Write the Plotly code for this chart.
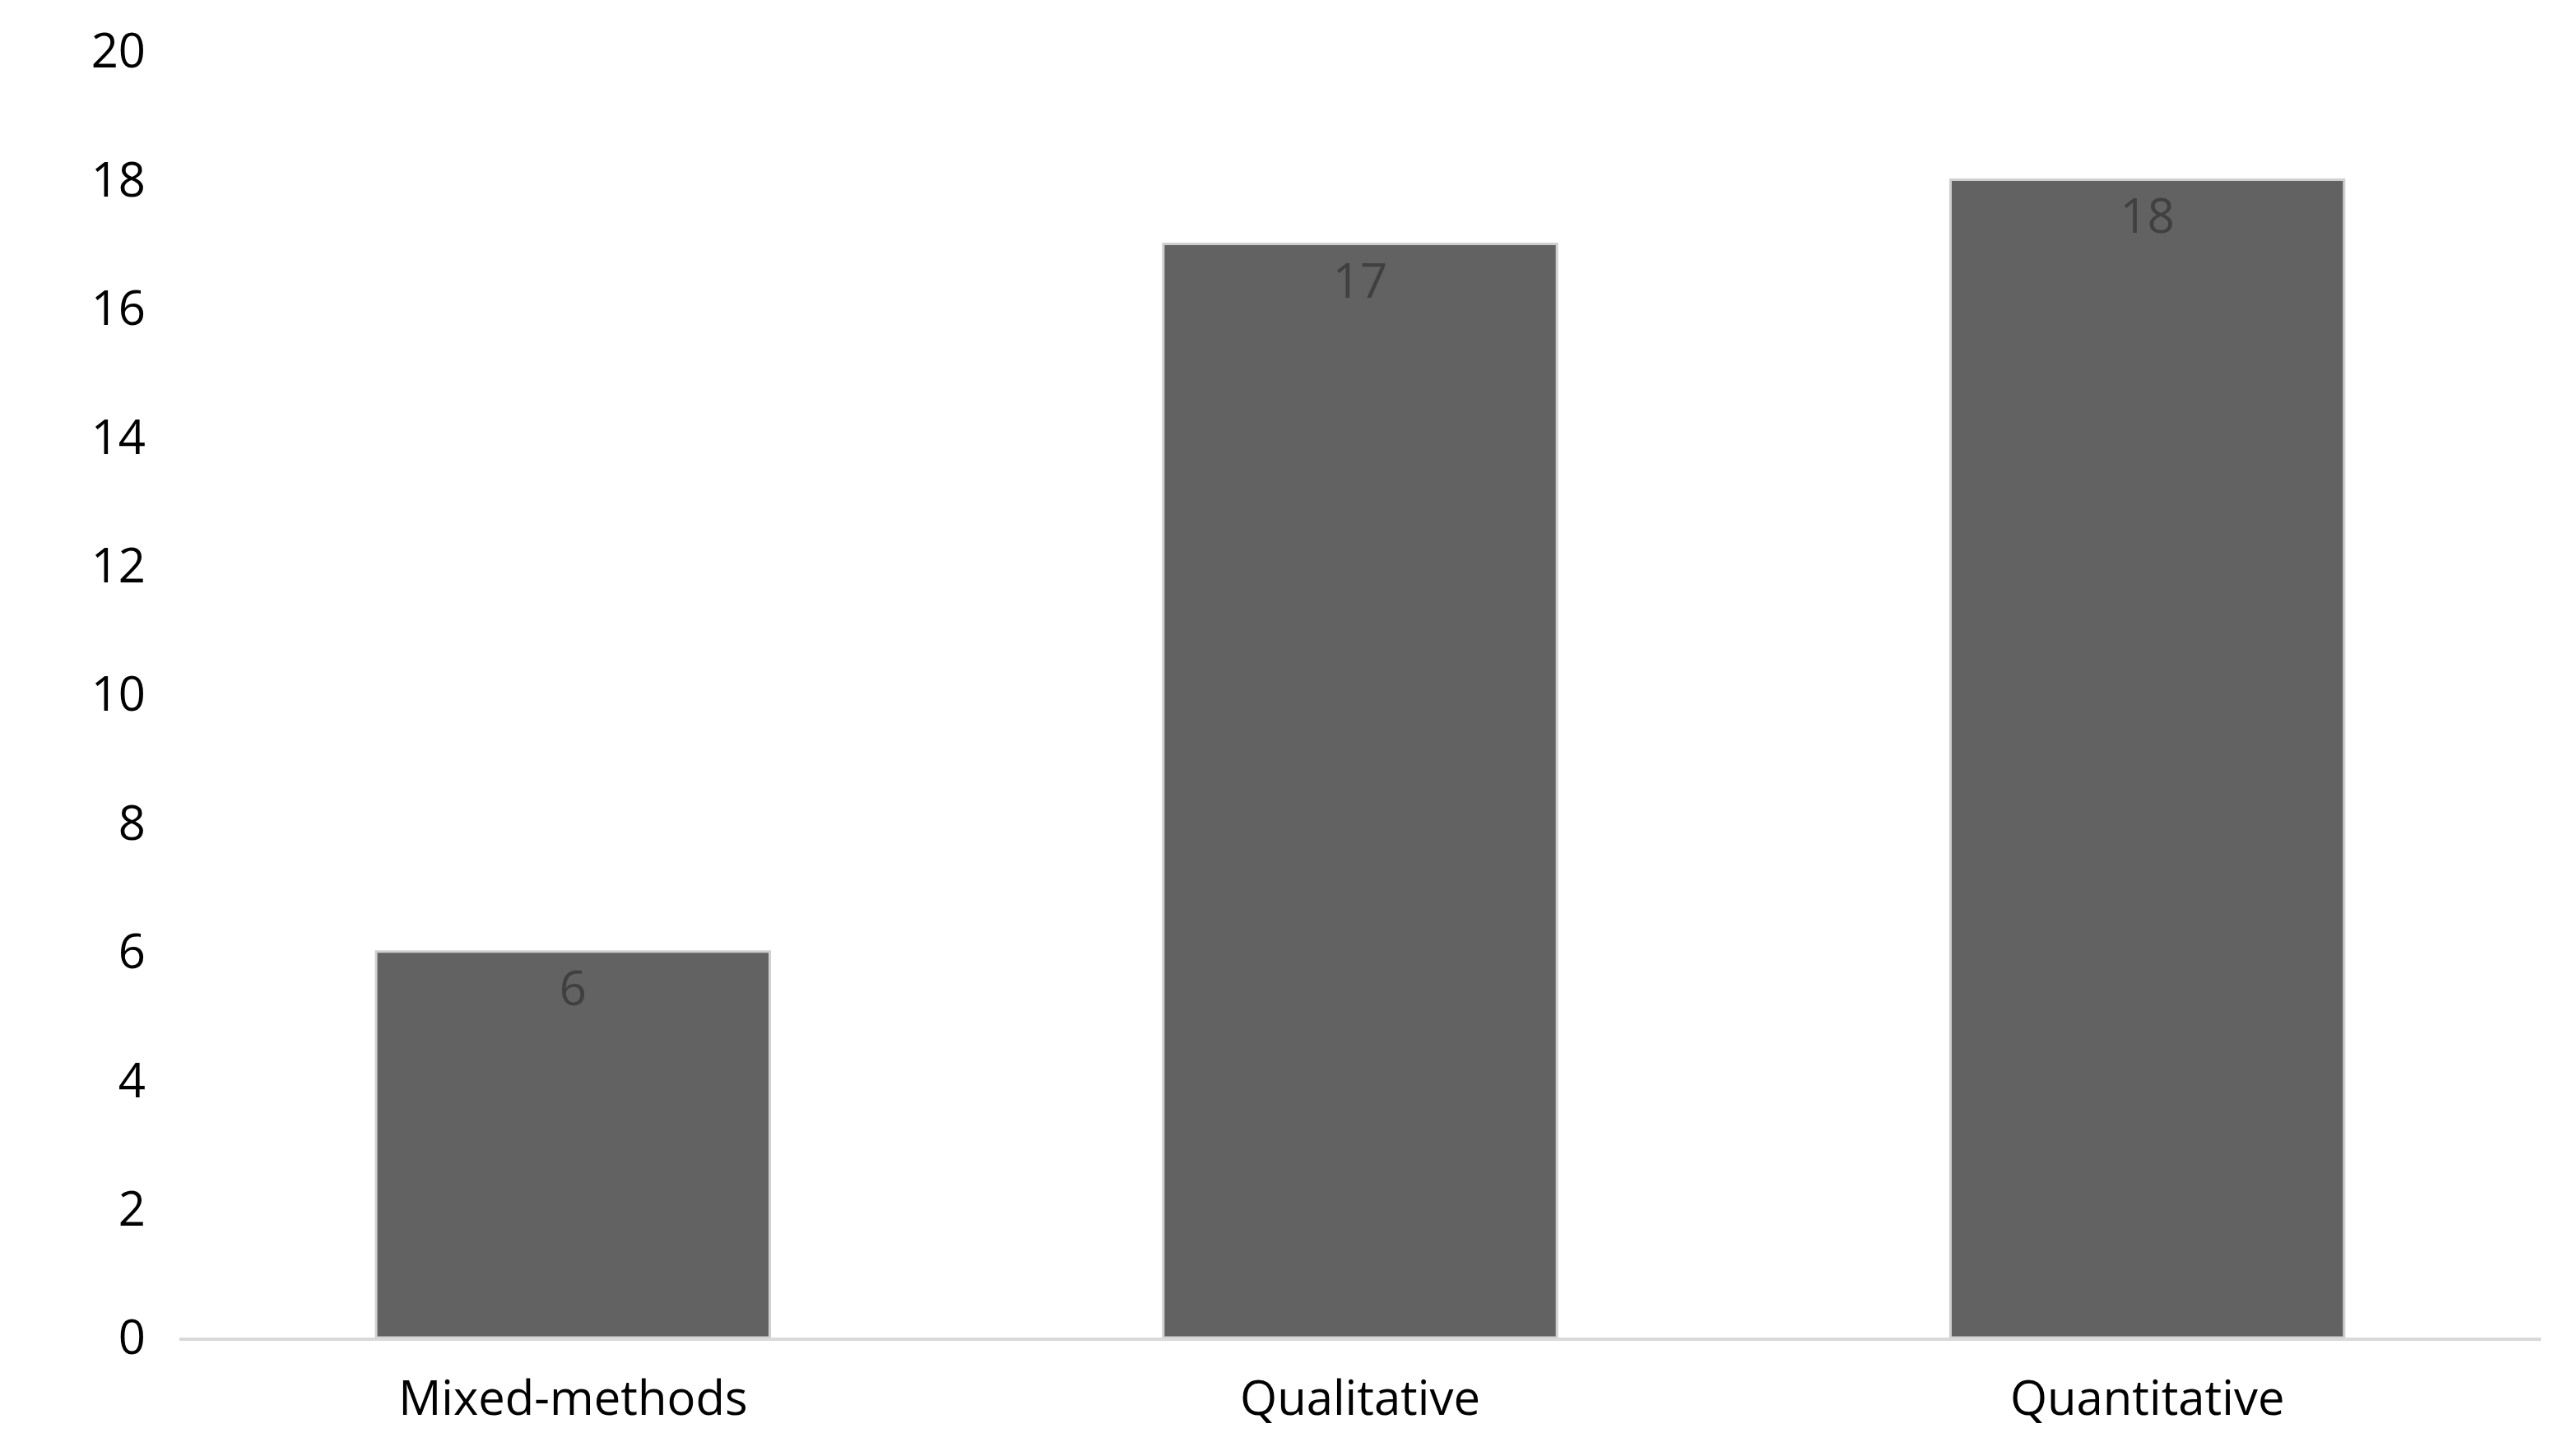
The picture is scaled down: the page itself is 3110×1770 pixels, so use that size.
import plotly.graph_objects as go

categories = ["Mixed-methods", "Qualitative", "Quantitative"]
counts = [6, 17, 18]
y_ticks = [0, 2, 4, 6, 8, 10, 12, 14, 16, 18, 20]

fig = go.Figure()
fig.add_trace(go.Bar(
    x=categories, y=counts, width=0.5,
    text=[str(c) for c in counts],
    textposition="inside", insidetextanchor="end",
    textfont=dict(size=58, color="#404040"),
    marker=dict(color="#626262", line=dict(color="#cfcfcf", width=3)),
))
fig.update_layout(
    width=3110, height=1770,
    margin=dict(l=210, r=30, t=44, b=152),
    plot_bgcolor="white", paper_bgcolor="white",
    font=dict(family="Open Sans", size=58, color="#000000"),
    showlegend=False,
)
fig.update_yaxes(range=[0, 20], tickvals=y_ticks, showgrid=False, zeroline=False,
                 showline=False, ticks="", ticklabelstandoff=40)
fig.update_xaxes(showline=True, linecolor="#d9d9d9", linewidth=4, ticks="",
                 ticklabelstandoff=20)
fig.write_html("out.html")
